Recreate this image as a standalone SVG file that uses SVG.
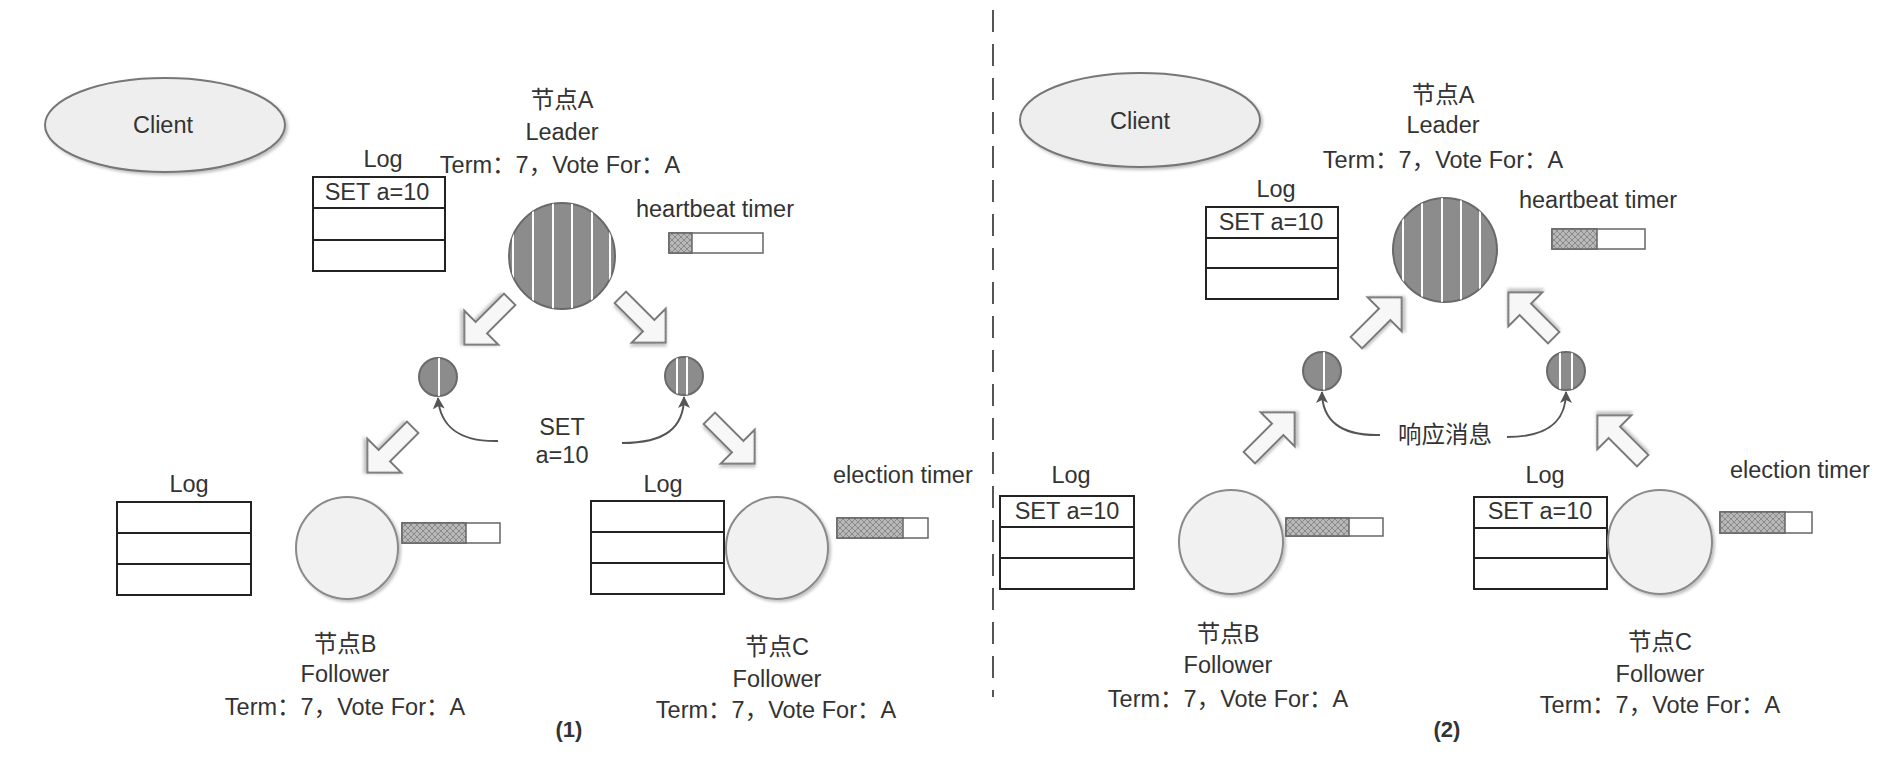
<svg xmlns="http://www.w3.org/2000/svg" width="1890" height="778" viewBox="0 0 1890 778">
<style>
.t{font-family:"Liberation Sans","Noto Sans CJK SC",sans-serif;font-size:23.5px;fill:#333;text-anchor:middle}
.ts{text-anchor:start}
.b{font-weight:bold;font-size:22px}
.log{fill:#fff;stroke:#222;stroke-width:2}
.row{stroke:#222;stroke-width:2}
.lead{fill:#8c8c8c;stroke:#6a6a6a;stroke-width:2}
.fol{fill:#f1f1f1;stroke:#8a8a8a;stroke-width:2;filter:url(#sh)}
.cli{fill:#eeeeee;stroke:#777;stroke-width:2;filter:url(#sh)}
.stripe{stroke:#fff;stroke-width:2}
.bar{fill:#fff;stroke:#666;stroke-width:1.5}
.barf{fill:url(#hatch);stroke:#666;stroke-width:1.5}
.blk{fill:#f7f7f7;stroke:#7a7a7a;stroke-width:2;filter:url(#sh)}
.curve{fill:none;stroke:#555;stroke-width:2;marker-end:url(#ah)}
.div{stroke:#555;stroke-width:2;stroke-dasharray:22 12}
</style>
<defs>
<pattern id="hatch" width="6" height="6" patternUnits="userSpaceOnUse"><rect width="6" height="6" fill="#b8b8b8"/><path d="M0,0 L6,6 M6,0 L0,6" stroke="#8a8a8a" stroke-width="1"/></pattern>
<filter id="sh" x="-20%" y="-20%" width="150%" height="150%"><feDropShadow dx="2" dy="2" stdDeviation="1.5" flood-color="#000" flood-opacity="0.25"/></filter>
<path id="blkarrow" d="M-32,-8 L8,-8 L8,-24 L32,0 L8,24 L8,8 L-32,8 Z"/>
<marker id="ah" viewBox="0 0 12 12" refX="11" refY="6" markerWidth="12" markerHeight="12" markerUnits="userSpaceOnUse" orient="auto"><path d="M0,0 L12,6 L0,12 L3,6 Z" fill="#555"/></marker>
<clipPath id="cA1"><circle cx="562" cy="256" r="53"/></clipPath>
<clipPath id="cA2"><circle cx="1445" cy="250" r="52"/></clipPath>
<clipPath id="cm1"><circle cx="438" cy="377" r="19"/></clipPath>
<clipPath id="cm2"><circle cx="684" cy="376" r="19"/></clipPath>
<clipPath id="cm3"><circle cx="1322" cy="371" r="19"/></clipPath>
<clipPath id="cm4"><circle cx="1566" cy="371" r="19"/></clipPath>
</defs>

<line class="div" x1="993" y1="10" x2="993" y2="697"/>

<!-- Panel 1 -->
<g id="client1">
<ellipse class="cli" cx="165" cy="125" rx="120" ry="47"/>
<text class="t" x="163" y="133">Client</text>
</g>

<g id="nodeA1">
<text class="t" x="562" y="108">节点A</text>
<text class="t" x="562" y="140">Leader</text>
<text class="t" x="560" y="173">Term：7，Vote For：A</text>
<text class="t" x="383" y="167">Log</text>
<rect class="log" x="313" y="177" width="132" height="94"/>
<line class="row" x1="313" y1="208" x2="445" y2="208"/>
<line class="row" x1="313" y1="240" x2="445" y2="240"/>
<text class="t" x="377" y="200">SET a=10</text>
<circle class="lead" cx="562" cy="256" r="53"/>
<g clip-path="url(#cA1)">
<line class="stripe" x1="513" y1="200" x2="513" y2="312"/>
<line class="stripe" x1="533" y1="200" x2="533" y2="312"/>
<line class="stripe" x1="553" y1="200" x2="553" y2="312"/>
<line class="stripe" x1="572" y1="200" x2="572" y2="312"/>
<line class="stripe" x1="592" y1="200" x2="592" y2="312"/>
<line class="stripe" x1="610" y1="200" x2="610" y2="312"/>
</g>
<text class="t" x="715" y="217">heartbeat timer</text>
<rect class="bar" x="669" y="233" width="94" height="20"/>
<rect class="barf" x="669" y="233" width="23" height="20"/>
</g>

<g id="msg1a">
<circle class="lead" cx="438" cy="377" r="19"/>
<line class="stripe" x1="439" y1="355" x2="439" y2="399" clip-path="url(#cm1)"/>
</g>
<g id="msg1b">
<circle class="lead" cx="684" cy="376" r="19"/>
<g clip-path="url(#cm2)">
<line class="stripe" x1="677" y1="355" x2="677" y2="398"/>
<line class="stripe" x1="687" y1="355" x2="687" y2="398"/>
</g>
</g>
<g id="label1">
<text class="t" x="562" y="435">SET</text>
<text class="t" x="562" y="463">a=10</text>
</g>

<g id="nodeB1">
<text class="t" x="189" y="492">Log</text>
<rect class="log" x="117" y="502" width="134" height="93"/>
<line class="row" x1="117" y1="533" x2="251" y2="533"/>
<line class="row" x1="117" y1="564" x2="251" y2="564"/>
<circle class="fol" cx="347" cy="548" r="51"/>
<rect class="bar" x="402" y="523" width="98" height="20"/>
<rect class="barf" x="402" y="523" width="64" height="20"/>
<text class="t" x="345" y="652">节点B</text>
<text class="t" x="345" y="682">Follower</text>
<text class="t" x="345" y="715">Term：7，Vote For：A</text>
</g>

<g id="nodeC1">
<text class="t" x="663" y="492">Log</text>
<rect class="log" x="591" y="501" width="133" height="93"/>
<line class="row" x1="591" y1="532" x2="724" y2="532"/>
<line class="row" x1="591" y1="563" x2="724" y2="563"/>
<circle class="fol" cx="777" cy="548" r="51"/>
<text class="t ts" x="833" y="483">election timer</text>
<rect class="bar" x="837" y="518" width="91" height="20"/>
<rect class="barf" x="837" y="518" width="66" height="20"/>
<text class="t" x="777" y="655">节点C</text>
<text class="t" x="777" y="687">Follower</text>
<text class="t" x="776" y="718">Term：7，Vote For：A</text>
</g>

<text class="t b" x="569" y="737">(1)</text>

<!-- Panel 2 -->
<g id="client2">
<ellipse class="cli" cx="1140" cy="120" rx="120" ry="47"/>
<text class="t" x="1140" y="129">Client</text>
</g>

<g id="nodeA2">
<text class="t" x="1443" y="103">节点A</text>
<text class="t" x="1443" y="133">Leader</text>
<text class="t" x="1443" y="168">Term：7，Vote For：A</text>
<text class="t" x="1276" y="197">Log</text>
<rect class="log" x="1206" y="207" width="132" height="92"/>
<line class="row" x1="1206" y1="238" x2="1338" y2="238"/>
<line class="row" x1="1206" y1="268" x2="1338" y2="268"/>
<text class="t" x="1271" y="230">SET a=10</text>
<circle class="lead" cx="1445" cy="250" r="52"/>
<g clip-path="url(#cA2)">
<line class="stripe" x1="1403" y1="195" x2="1403" y2="305"/>
<line class="stripe" x1="1422" y1="195" x2="1422" y2="305"/>
<line class="stripe" x1="1442" y1="195" x2="1442" y2="305"/>
<line class="stripe" x1="1461" y1="195" x2="1461" y2="305"/>
<line class="stripe" x1="1480" y1="195" x2="1480" y2="305"/>
</g>
<text class="t" x="1598" y="208">heartbeat timer</text>
<rect class="bar" x="1552" y="229" width="93" height="20"/>
<rect class="barf" x="1552" y="229" width="45" height="20"/>
</g>

<g id="msg2a">
<circle class="lead" cx="1322" cy="371" r="19"/>
<line class="stripe" x1="1324" y1="350" x2="1324" y2="392" clip-path="url(#cm3)"/>
</g>
<g id="msg2b">
<circle class="lead" cx="1566" cy="371" r="19"/>
<g clip-path="url(#cm4)">
<line class="stripe" x1="1560" y1="350" x2="1560" y2="392"/>
<line class="stripe" x1="1572" y1="350" x2="1572" y2="392"/>
</g>
</g>
<g id="label2">
<text class="t" x="1445" y="443">响应消息</text>
</g>

<g id="nodeB2">
<text class="t" x="1071" y="483">Log</text>
<rect class="log" x="1000" y="496" width="134" height="93"/>
<line class="row" x1="1000" y1="527" x2="1134" y2="527"/>
<line class="row" x1="1000" y1="558" x2="1134" y2="558"/>
<text class="t" x="1067" y="519">SET a=10</text>
<circle class="fol" cx="1231" cy="542" r="52"/>
<rect class="bar" x="1286" y="518" width="97" height="18"/>
<rect class="barf" x="1286" y="518" width="63" height="18"/>
<text class="t" x="1228" y="642">节点B</text>
<text class="t" x="1228" y="673">Follower</text>
<text class="t" x="1228" y="707">Term：7，Vote For：A</text>
</g>

<g id="nodeC2">
<text class="t" x="1545" y="483">Log</text>
<rect class="log" x="1474" y="497" width="133" height="92"/>
<line class="row" x1="1474" y1="528" x2="1607" y2="528"/>
<line class="row" x1="1474" y1="558" x2="1607" y2="558"/>
<text class="t" x="1540" y="519">SET a=10</text>
<circle class="fol" cx="1660" cy="542" r="52"/>
<text class="t ts" x="1730" y="478">election timer</text>
<rect class="bar" x="1720" y="512" width="92" height="21"/>
<rect class="barf" x="1720" y="512" width="65" height="21"/>
<text class="t" x="1660" y="650">节点C</text>
<text class="t" x="1660" y="682">Follower</text>
<text class="t" x="1660" y="713">Term：7，Vote For：A</text>
</g>

<text class="t b" x="1447" y="737">(2)</text>

<g id="connectors">
<use href="#blkarrow" class="blk" transform="translate(487,322) rotate(135)"/>
<use href="#blkarrow" class="blk" transform="translate(643,320) rotate(45)"/>
<use href="#blkarrow" class="blk" transform="translate(390,450) rotate(135)"/>
<use href="#blkarrow" class="blk" transform="translate(732,441) rotate(45)"/>
<path class="curve" d="M498,441 C458,442 440,425 438,398"/>
<path class="curve" d="M622,443 C665,443 684,428 684,397"/>
<use href="#blkarrow" class="blk" transform="translate(1379,320) rotate(-45)"/>
<use href="#blkarrow" class="blk" transform="translate(1531,315) rotate(-135)"/>
<use href="#blkarrow" class="blk" transform="translate(1272,435) rotate(-45)"/>
<use href="#blkarrow" class="blk" transform="translate(1620,438) rotate(-135)"/>
<path class="curve" d="M1380,435 C1340,436 1322,420 1322,392"/>
<path class="curve" d="M1507,437 C1550,437 1566,420 1566,392"/>
</g>
</svg>
